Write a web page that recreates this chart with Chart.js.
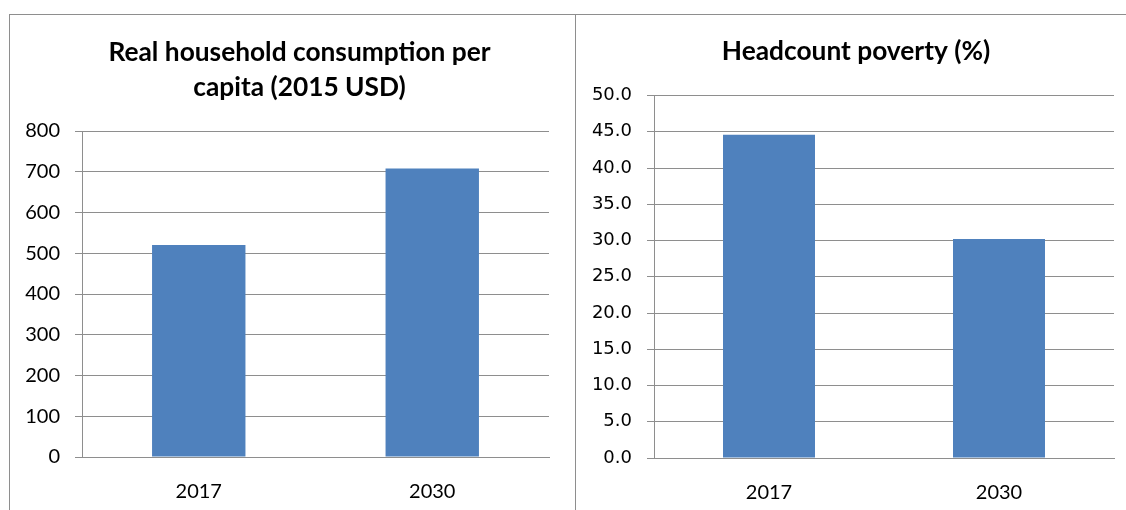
<!DOCTYPE html>
<html>
<head>
<meta charset="utf-8">
<script src="https://cdn.jsdelivr.net/npm/chart.js@4.4.1/dist/chart.umd.min.js"></script>
<style>
    body { margin: 0; background: #fff; }
    #page { position: relative; width: 1126px; height: 510px; overflow: hidden; background: #fff; }
    .line { position: absolute; background: #8e8e8e; }
    canvas { position: absolute; }
</style>
</head>
<body>
<div id="page">
    <div class="line" style="left:9px; top:14px; width:1117px; height:1px;"></div>
    <div class="line" style="left:9px; top:14px; width:1px; height:496px;"></div>
    <div class="line" style="left:575px; top:14px; width:1px; height:496px;"></div>
    <canvas id="consChart" width="564" height="495" style="left:10px; top:15px;"></canvas>
    <canvas id="povChart" width="550" height="495" style="left:576px; top:15px;"></canvas>
</div>
<script>
var years = ['2017', '2030'];
var consumption = [520, 708];
var poverty = [44.6, 30.2];
var consTicks = [0, 100, 200, 300, 400, 500, 600, 700, 800];
var povTicks = [0, 5, 10, 15, 20, 25, 30, 35, 40, 45, 50];

document.addEventListener("DOMContentLoaded", function() {
    var barColor = '#4f81bd';
    var gridColor = '#8e8e8e';

    // nudge the title sideways, the original is not centred on the canvas
    var titleShift = {
        id: 'titleShift',
        afterLayout: function(chart, args, options) {
            if (chart.titleBlock) {
                chart.titleBlock.left += options.dx;
                chart.titleBlock.right += options.dx;
            }
        }
    };

    function makeChart(id, title, data, ticks, opts) {
        var ctx = document.getElementById(id).getContext('2d');
        return new Chart(ctx, {
            type: 'bar',
            data: {
                labels: years,
                datasets: [{
                    data: data,
                    backgroundColor: barColor,
                    barPercentage: 0.4,
                    categoryPercentage: 1.0
                }]
            },
            plugins: [titleShift],
            options: {
                responsive: false,
                animation: false,
                devicePixelRatio: 1,
                layout: { padding: { left: 0, right: opts.right, top: 0, bottom: 0 } },
                plugins: {
                    legend: { display: false },
                    tooltip: { enabled: false },
                    titleShift: { dx: opts.dx },
                    title: {
                        display: true,
                        text: title,
                        color: '#000',
                        font: { family: 'Lato', size: 26.3, weight: 'bold', lineHeight: opts.titleLine },
                        padding: { top: opts.titleTop, bottom: opts.titleBottom }
                    }
                },
                scales: {
                    x: {
                        grid: { display: false },
                        border: { display: true, color: gridColor, width: 1 },
                        ticks: {
                            color: '#000',
                            padding: 15,
                            font: { family: 'Lato', size: 20 }
                        },
                        afterFit: function(scale) { scale.height = opts.xHeight; }
                    },
                    y: {
                        min: ticks[0],
                        max: ticks[ticks.length - 1],
                        grid: { color: gridColor, lineWidth: 1, drawTicks: true, tickLength: 7 },
                        border: { display: true, color: gridColor, width: 1 },
                        afterBuildTicks: function(scale) {
                            scale.ticks = ticks.map(function(v) { return { value: v }; });
                        },
                        ticks: {
                            color: '#000',
                            padding: 15,
                            font: opts.tickFont,
                            callback: opts.fmt
                        },
                        afterFit: function(scale) { scale.width = opts.yWidth; }
                    }
                }
            }
        });
    }

    makeChart('consChart', ['Real household consumption per', 'capita (2015 USD)'], consumption, consTicks, {
        dx: 20, right: 25, yWidth: 72, xHeight: 53,
        titleLine: 35 / 26.3, titleTop: 20, titleBottom: 26,
        tickFont: { family: 'Lato', size: 20 },
        fmt: function(v) { return String(v); }
    });

    makeChart('povChart', 'Headcount poverty (%)', poverty, povTicks, {
        dx: 11, right: 12, yWidth: 78, xHeight: 52,
        titleLine: 1.2, titleTop: 21, titleBottom: 28,
        tickFont: { family: 'DejaVu Sans', size: 18 },
        fmt: function(v) { return Number(v).toFixed(1); }
    });
});
</script>
</body>
</html>
